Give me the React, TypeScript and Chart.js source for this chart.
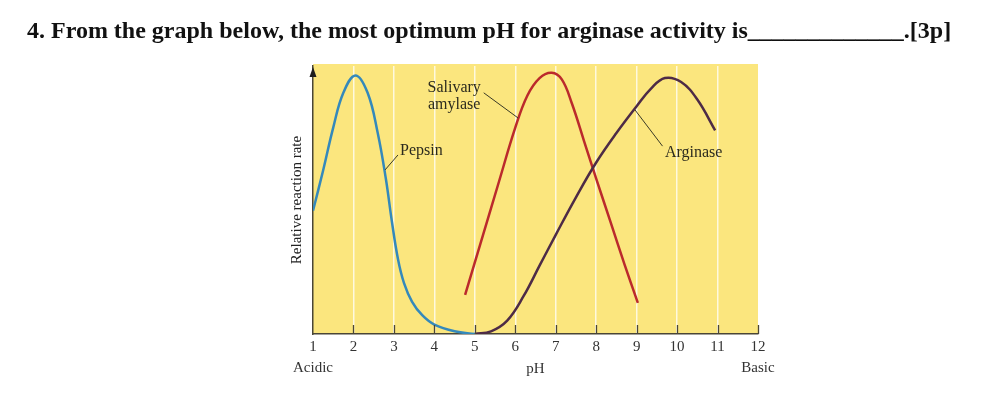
import React, { useEffect, useRef } from "react";
import { Chart, registerables } from "chart.js";

Chart.register(...registerables);

// ---- data ----
const questionText = "4. From the graph below, the most optimum pH for arginase activity is_____________.[3p]";
const yAxisTitle = "Relative reaction rate";
const xAxisTitle = "pH";
const phTicks = [1, 2, 3, 4, 5, 6, 7, 8, 9, 10, 11, 12];
const acidicLabel = "Acidic";
const basicLabel = "Basic";

const pepsinPH = [1.0, 1.25, 1.5, 1.75, 2.05, 2.35, 2.6, 2.8, 2.95, 3.1, 3.25, 3.45, 3.7, 4.0, 4.5, 5.0];
const pepsinRate = [46, 61, 77, 90, 96.5, 90, 75, 58, 42, 28, 19, 12, 7, 3.5, 1, 0];

const amylasePH = [4.76, 5.2, 5.6, 6.0, 6.3, 6.6, 6.9, 7.15, 7.4, 7.7, 8.0, 8.35, 8.7, 9.03];
const amylaseRate = [14.6, 36.8, 57, 77, 89, 95.5, 97.5, 95, 86, 72, 58, 42, 26, 11.6];

const arginasePH = [5.0, 5.4, 5.8, 6.2, 6.6, 7.0, 7.5, 8.0, 8.5, 9.0, 9.35, 9.7, 10.1, 10.5, 10.94];
const arginaseRate = [0, 1, 5, 14, 25.5, 37, 51, 64, 75, 85, 91.5, 95.5, 94, 87.5, 76];

// annotation labels: [text lines], anchor pH, baseline rate, alignment
const labelTexts = [["Salivary", "amylase"], ["Pepsin"], ["Arginase"]];
const labelPH = [4.49, 3.15, 9.7];
const labelRate = [90.3, 66.8, 66];
const labelAlign: CanvasTextAlign[] = ["center", "left", "left"];
// leader lines: [pH1, rate1, pH2, rate2]
const leaderLines = [
  [5.22, 90, 6.07, 80.6],
  [2.78, 61.2, 3.1, 66.8],
  [8.96, 83.6, 9.64, 70.1],
];

const SERIF = '"Liberation Serif", "Times New Roman", serif';
const YELLOW = "#fbe67e";
const AXIS = "#4a4636";
const TEXT = "#2b2a1e";

const toPoints = (xs: number[], ys: number[]) => xs.map((x, i) => ({ x, y: ys[i] }));

const decorPlugin = {
  id: "decor",
  beforeDraw(chart: any) {
    const { ctx, chartArea } = chart;
    ctx.save();
    ctx.fillStyle = YELLOW;
    ctx.fillRect(chartArea.left, chartArea.top - 2, chartArea.right - chartArea.left, chartArea.bottom - chartArea.top + 2);
    ctx.restore();
  },
  afterDraw(chart: any) {
    const { ctx, chartArea } = chart;
    const xs = chart.scales.x;
    const ys = chart.scales.y;
    ctx.save();
    // inner tick marks
    ctx.strokeStyle = AXIS;
    ctx.lineWidth = 1.3;
    phTicks.forEach((v) => {
      if (v === phTicks[0]) return;
      const px = Math.round(xs.getPixelForValue(v)) + 0.5;
      ctx.beginPath();
      ctx.moveTo(px, chartArea.bottom);
      ctx.lineTo(px, chartArea.bottom - 9);
      ctx.stroke();
    });
    // arrow head on y axis
    const ax = chartArea.left;
    ctx.fillStyle = "#1e1e1e";
    ctx.beginPath();
    ctx.moveTo(ax, chartArea.top + 1);
    ctx.lineTo(ax - 3.5, chartArea.top + 11);
    ctx.lineTo(ax + 3.5, chartArea.top + 11);
    ctx.closePath();
    ctx.fill();
    // leader lines
    ctx.strokeStyle = "#3a3a26";
    ctx.lineWidth = 1;
    leaderLines.forEach(([p1, r1, p2, r2]) => {
      ctx.beginPath();
      ctx.moveTo(xs.getPixelForValue(p1), ys.getPixelForValue(r1));
      ctx.lineTo(xs.getPixelForValue(p2), ys.getPixelForValue(r2));
      ctx.stroke();
    });
    // labels
    ctx.fillStyle = TEXT;
    ctx.font = `16px ${SERIF}`;
    ctx.textBaseline = "alphabetic";
    labelTexts.forEach((lines, i) => {
      ctx.textAlign = labelAlign[i];
      const x = xs.getPixelForValue(labelPH[i]);
      const y = ys.getPixelForValue(labelRate[i]);
      lines.forEach((t, j) => ctx.fillText(t, x, y + j * 17));
    });
    // question title
    ctx.fillStyle = "#111";
    ctx.font = `bold 24px ${SERIF}`;
    ctx.textAlign = "left";
    ctx.fillText(questionText, 27, 38);
    ctx.restore();
  },
};

export default function App() {
  const ref = useRef<HTMLCanvasElement | null>(null);
  useEffect(() => {
    if (!ref.current) return;
    const lineStyle = {
      borderWidth: 2.5,
      pointRadius: 0,
      fill: false,
      tension: 0.4,
      cubicInterpolationMode: "default" as const,
    };
    const chart = new Chart(ref.current, {
      type: "line",
      data: {
        datasets: [
          { label: "Pepsin", data: toPoints(pepsinPH, pepsinRate), borderColor: "#3489bb", ...lineStyle },
          { label: "Arginase", data: toPoints(arginasePH, arginaseRate), borderColor: "#4d2b46", ...lineStyle },
          { label: "Salivary amylase", data: toPoints(amylasePH, amylaseRate), borderColor: "#bb2a2c", ...lineStyle },
        ],
      },
      options: {
        animation: false,
        responsive: true,
        maintainAspectRatio: false,
        layout: { padding: { left: 280, right: 241, top: 66, bottom: 0 } },
        plugins: { legend: { display: false }, tooltip: { enabled: false }, title: { display: false } },
        scales: {
          x: {
            type: "linear",
            min: 1,
            max: 12,
            afterFit: (s: any) => {
              s.height = 62;
            },
            afterBuildTicks: (s: any) => {
              s.ticks = phTicks.map((v) => ({ value: v }));
            },
            ticks: {
              autoSkip: false,
              maxRotation: 0,
              padding: 3,
              color: "#333",
              font: { family: SERIF, size: 15, lineHeight: 1.4 },
              callback: (v: any) => {
                const n = Number(v);
                if (n === phTicks[0]) return [String(n), acidicLabel];
                if (n === phTicks[phTicks.length - 1]) return [String(n), basicLabel];
                return String(n);
              },
            },
            grid: {
              drawTicks: false,
              lineWidth: 1.5,
              color: (c: any) =>
                c.tick && (c.tick.value === phTicks[0] || c.tick.value === phTicks[phTicks.length - 1])
                  ? "rgba(0,0,0,0)"
                  : "rgba(255,255,255,0.75)",
            },
            border: { display: true, color: AXIS, width: 1.5 },
            title: {
              display: true,
              text: xAxisTitle,
              color: "#333",
              font: { family: SERIF, size: 15 },
              padding: { top: 0, bottom: 18 },
            },
          },
          y: {
            type: "linear",
            min: 0,
            max: 100,
            afterFit: (s: any) => {
              s.width = 33;
            },
            ticks: { display: false },
            grid: { display: false, drawTicks: false },
            border: { display: true, color: AXIS, width: 1.5 },
            title: {
              display: true,
              text: yAxisTitle,
              color: "#222",
              font: { family: SERIF, size: 15 },
              padding: { top: 8, bottom: 0 },
            },
          },
        },
      },
      plugins: [decorPlugin],
    });
    return () => chart.destroy();
  }, []);
  return (
    <div style={{ position: "absolute", left: 0, top: 0, width: 999, height: 396, background: "#fff" }}>
      <canvas ref={ref} />
    </div>
  );
}
